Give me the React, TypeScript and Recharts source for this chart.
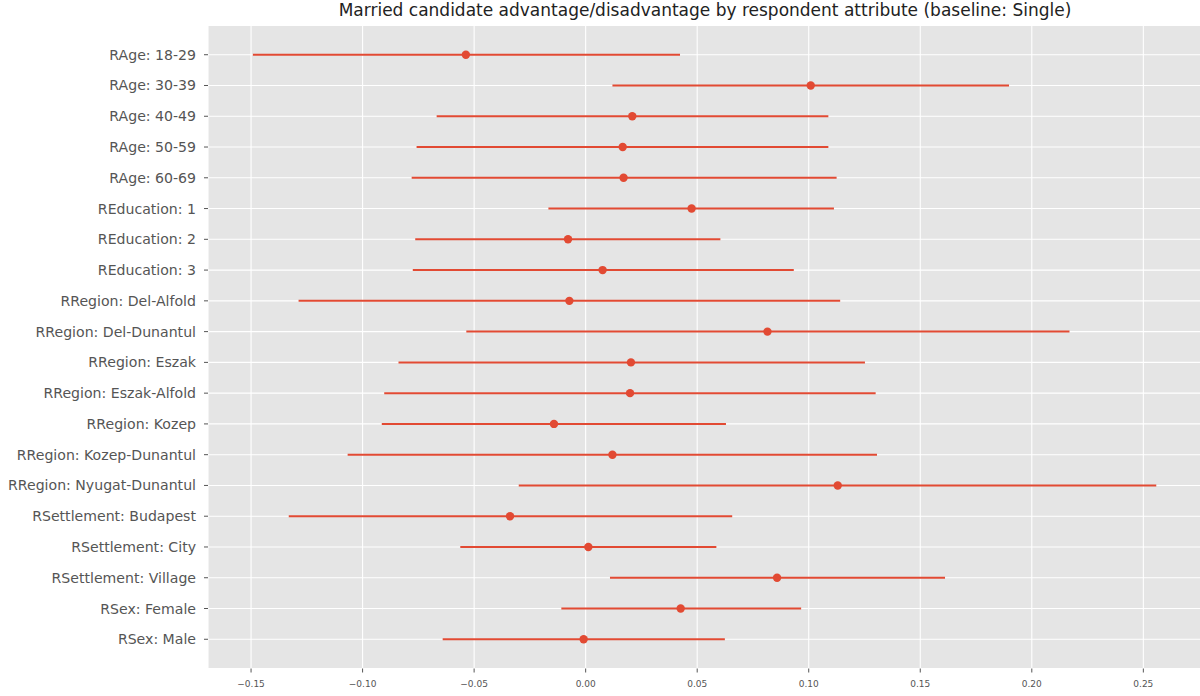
import React from "react";
import {
  ScatterChart,
  Scatter,
  XAxis,
  YAxis,
  CartesianGrid,
  ErrorBar,
} from "recharts";

// respondent attribute levels, top to bottom
const attributes = [
  "RAge: 18-29",
  "RAge: 30-39",
  "RAge: 40-49",
  "RAge: 50-59",
  "RAge: 60-69",
  "REducation: 1",
  "REducation: 2",
  "REducation: 3",
  "RRegion: Del-Alfold",
  "RRegion: Del-Dunantul",
  "RRegion: Eszak",
  "RRegion: Eszak-Alfold",
  "RRegion: Kozep",
  "RRegion: Kozep-Dunantul",
  "RRegion: Nyugat-Dunantul",
  "RSettlement: Budapest",
  "RSettlement: City",
  "RSettlement: Village",
  "RSex: Female",
  "RSex: Male",
];

// married minus single estimate
const estimates = [
  -0.0537, 0.1009, 0.0209, 0.0166, 0.017, 0.0475, -0.0079, 0.0076, -0.0073,
  0.0815, 0.0203, 0.0199, -0.0142, 0.012, 0.113, -0.0339, 0.0012, 0.0858,
  0.0426, -0.0009,
];

// 95% interval bounds
const lowerBounds = [
  -0.1492, 0.012, -0.0668, -0.0758, -0.078, -0.0167, -0.0764, -0.0775, -0.1287,
  -0.0535, -0.0839, -0.0903, -0.0914, -0.1067, -0.03, -0.1331, -0.0562, 0.0109,
  -0.0109, -0.0641,
];
const upperBounds = [
  0.0423, 0.1898, 0.1088, 0.1088, 0.1125, 0.1113, 0.0604, 0.0933, 0.1141,
  0.2169, 0.1252, 0.13, 0.0629, 0.1306, 0.2558, 0.0657, 0.0586, 0.1611, 0.0966,
  0.0624,
];

const xTicks = [-0.15, -0.1, -0.05, 0, 0.05, 0.1, 0.15, 0.2, 0.25];

const RED = "#E24A33";
const FONT = "'DejaVu Sans', sans-serif";

const rows = attributes.map((name, i) => ({
  idx: i,
  name,
  est: estimates[i],
  err: [estimates[i] - lowerBounds[i], upperBounds[i] - estimates[i]],
}));

const fmtX = (v: number) => {
  const s = Math.abs(v).toFixed(2);
  return v < -1e-9 ? "\u2212" + s : s;
};

const Dot = (props: any) => (
  <circle cx={props.cx} cy={props.cy} r={4.2} fill={RED} />
);

export default function App() {
  return (
    <div
      style={{
        position: "relative",
        width: 1200,
        height: 696,
        overflow: "hidden",
        background: "#fff",
        fontFamily: FONT,
      }}
    >
      <style>{`body{margin:0}`}</style>
      <div
        style={{
          position: "absolute",
          left: 208,
          width: 994,
          top: 2.3,
          textAlign: "center",
          fontSize: 17,
          lineHeight: "17px",
          color: "#222",
          whiteSpace: "nowrap",
        }}
      >
        Married candidate advantage/disadvantage by respondent attribute
        (baseline: Single)
      </div>
      <ScatterChart
        width={1202}
        height={696}
        margin={{ top: 25.5, right: 0, bottom: 0, left: 0 }}
      >
        <CartesianGrid fill="#E5E5E5" stroke="#FFFFFF" strokeWidth={1.1} />
        <XAxis
          type="number"
          dataKey="est"
          domain={[-0.1693, 0.2763]}
          allowDataOverflow
          ticks={xTicks}
          tickFormatter={fmtX}
          axisLine={false}
          tickLine={{ stroke: "#555555" }}
          tickSize={4}
          tickMargin={8}
          height={27.5}
          tick={{ fill: "#555555", fontSize: 9, fontFamily: FONT }}
        />
        <YAxis
          type="number"
          dataKey="idx"
          domain={[-0.95, 19.95]}
          reversed
          allowDataOverflow
          ticks={rows.map((r) => r.idx)}
          interval={0}
          tickFormatter={(i: number) => attributes[i] ?? ""}
          axisLine={false}
          tickLine={{ stroke: "#555555" }}
          tickSize={4}
          tickMargin={8}
          width={208}
          tick={{ fill: "#555555", fontSize: 14.1, fontFamily: FONT }}
        />
        <Scatter data={rows} shape={<Dot />} isAnimationActive={false}>
          <ErrorBar
            dataKey="err"
            direction="x"
            width={0}
            stroke={RED}
            strokeWidth={2}
          />
        </Scatter>
      </ScatterChart>
    </div>
  );
}
